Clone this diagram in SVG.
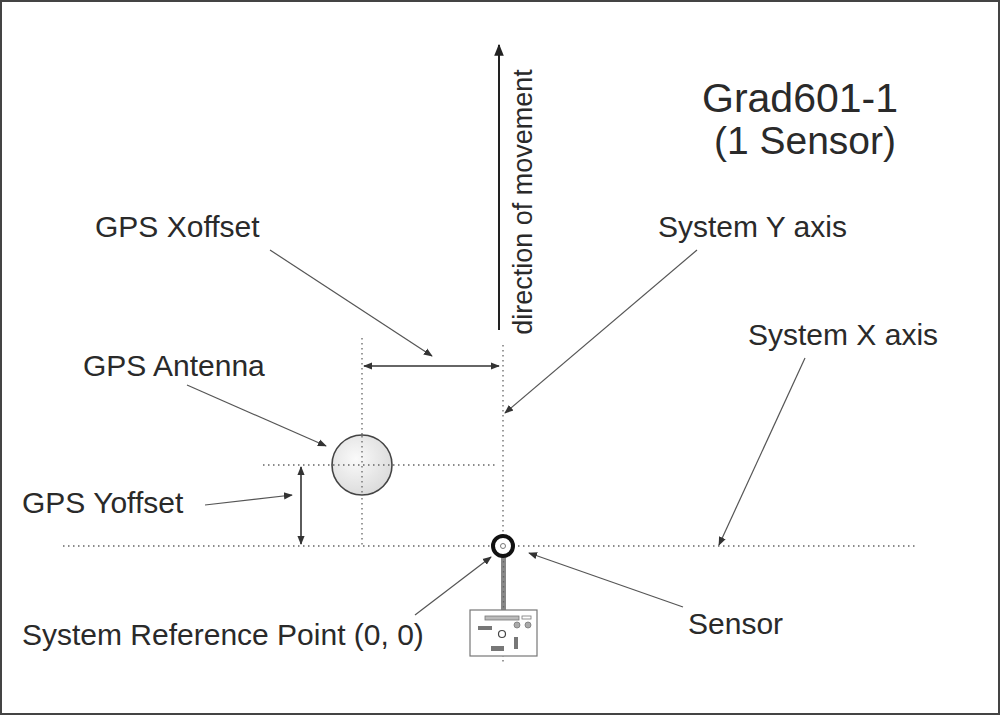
<svg xmlns="http://www.w3.org/2000/svg" width="1000" height="715" viewBox="0 0 1000 715">
<defs>
<style>
.t{font-family:"Liberation Sans",Arial,sans-serif;fill:#2a2a2a;font-size:30px}
.d{stroke:#666;stroke-width:1.3;stroke-dasharray:1.5 3.5;fill:none}
.l{stroke:#555;stroke-width:1.2;fill:none}
.a{stroke:#333;stroke-width:1.6;fill:none}
</style>
<marker id="ah" viewBox="0 0 10 10" refX="9" refY="5" markerWidth="9" markerHeight="9" markerUnits="userSpaceOnUse" orient="auto-start-reverse"><path d="M0,1 L10,5 L0,9 z" fill="#333"/></marker>
<marker id="ab" viewBox="0 0 10 10" refX="9" refY="5" markerWidth="12" markerHeight="12" markerUnits="userSpaceOnUse" orient="auto-start-reverse"><path d="M0,1 L10,5 L0,9 z" fill="#222"/></marker>
<radialGradient id="g" cx="0.4" cy="0.4" r="0.7"><stop offset="0" stop-color="#fafafa"/><stop offset="1" stop-color="#d8d8d8"/></radialGradient>
</defs>
<rect x="1" y="1" width="998" height="713" fill="#fff" stroke="#444" stroke-width="2"/>
<g id="guides">
<line class="d" x1="63" y1="546" x2="917" y2="546"/>
<line class="d" x1="503" y1="345" x2="503" y2="665"/>
<line class="d" x1="362" y1="338" x2="362" y2="546"/>
<line class="d" x1="263" y1="465" x2="498" y2="465"/>
</g>
<g id="connectors">
<line class="a" x1="364" y1="366" x2="499" y2="366" marker-start="url(#ah)" marker-end="url(#ah)"/>
<line class="a" x1="301" y1="467" x2="301" y2="544" marker-start="url(#ah)" marker-end="url(#ah)"/>
<line stroke="#222" stroke-width="2" x1="499" y1="330" x2="499" y2="45" marker-end="url(#ab)"/>
<line class="l" x1="270" y1="250" x2="432" y2="356" marker-end="url(#ah)"/>
<line class="l" x1="697" y1="250" x2="505" y2="413" marker-end="url(#ah)"/>
<line class="l" x1="805" y1="358" x2="719" y2="545" marker-end="url(#ah)"/>
<line class="l" x1="187" y1="385" x2="326" y2="446" marker-end="url(#ah)"/>
<line class="l" x1="205" y1="505" x2="292" y2="495" marker-end="url(#ah)"/>
<line class="l" x1="415" y1="615" x2="491" y2="557" marker-end="url(#ah)"/>
<line class="l" x1="683" y1="607" x2="529" y2="553" marker-end="url(#ah)"/>
</g>
<g id="antenna"><circle cx="362" cy="465" r="30" fill="url(#g)" stroke="#444" stroke-width="1.6"/>
<line class="d" x1="362" y1="436" x2="362" y2="494"/><line class="d" x1="333" y1="465" x2="391" y2="465"/></g>
<g id="device">
<rect x="501" y="556" width="5" height="55" fill="#888"/>
<line class="d" x1="503.5" y1="556" x2="503.5" y2="611" stroke="#ddd"/>
<rect x="470" y="610" width="67" height="46" fill="#fff" stroke="#777" stroke-width="1.2"/>
<rect x="485" y="616" width="34" height="4" fill="#bbb" stroke="#777" stroke-width="0.8"/>
<rect x="522" y="616" width="9" height="3" fill="#fff" stroke="#777" stroke-width="0.8"/>
<circle cx="517" cy="625" r="3" fill="#aaa" stroke="#777" stroke-width="0.8"/>
<circle cx="528" cy="625" r="3" fill="#aaa" stroke="#777" stroke-width="0.8"/>
<rect x="478" y="626" width="14" height="4" fill="#777"/>
<circle cx="502" cy="634" r="3.5" fill="#fff" stroke="#444" stroke-width="1.2"/>
<rect x="514" y="637" width="4" height="12" fill="#777"/>
<rect x="491" y="646" width="13" height="5" fill="#777"/>
</g>
<g id="sensor"><circle cx="503" cy="546" r="10" fill="#fff" stroke="#111" stroke-width="4"/><circle cx="503" cy="546" r="2.5" fill="none" stroke="#777"/></g>
<g id="labels">
<text class="t" x="800" y="112" text-anchor="middle" style="font-size:41px">Grad601-1</text>
<text class="t" x="805" y="154" text-anchor="middle" style="font-size:39px">(1 Sensor)</text>
<text class="t" transform="translate(532,202) rotate(-90)" text-anchor="middle" style="font-size:27px">direction of movement</text>
<text class="t" x="95" y="237">GPS Xoffset</text>
<text class="t" x="658" y="237">System Y axis</text>
<text class="t" x="748" y="345">System X axis</text>
<text class="t" x="83" y="376">GPS Antenna</text>
<text class="t" x="22" y="513">GPS Yoffset</text>
<text class="t" x="22" y="645">System Reference Point (0, 0)</text>
<text class="t" x="688" y="634">Sensor</text>
</g>
</svg>
